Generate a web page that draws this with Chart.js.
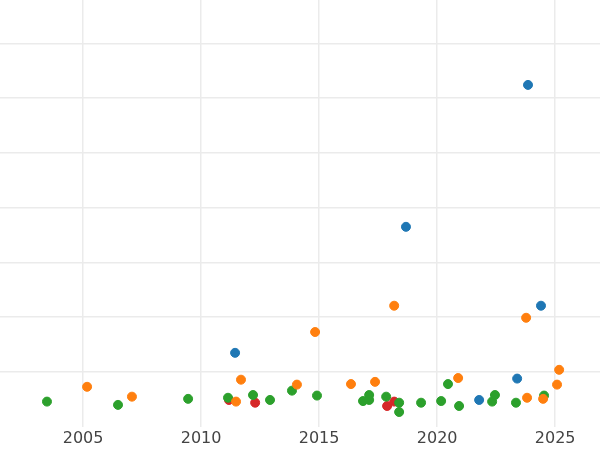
<!DOCTYPE html>
<html>
<head>
<meta charset="utf-8">
<script src="https://cdn.jsdelivr.net/npm/chart.js@4"></script>
<style>
    body { margin: 0; background: #fff; }
    #wrap { width: 600px; height: 450px; }
</style>
</head>
<body>
<div id="wrap"><canvas id="chart"></canvas></div>
<script>
// values: year and value per point
const blueX = [2023.85, 2018.68, 2024.40, 2011.44, 2023.39, 2021.78];
const blueY = [6.24, 3.65, 2.21, 1.35, 0.88, 0.49];
const orangeX = [2005.17, 2007.07, 2011.69, 2011.48, 2014.06, 2014.83, 2016.35, 2017.37, 2018.18, 2020.89, 2023.77, 2023.81, 2024.49, 2025.08, 2025.17];
const orangeY = [0.73, 0.55, 0.86, 0.46, 0.77, 1.73, 0.78, 0.82, 2.21, 0.89, 1.99, 0.53, 0.51, 0.77, 1.04];
const greenX = [2003.47, 2006.48, 2009.45, 2011.14, 2012.20, 2012.92, 2013.85, 2014.91, 2016.86, 2017.12, 2017.12, 2017.84, 2018.39, 2018.39, 2019.32, 2020.17, 2020.46, 2020.93, 2022.33, 2022.45, 2023.34, 2024.53];
const greenY = [0.46, 0.40, 0.51, 0.53, 0.58, 0.49, 0.66, 0.57, 0.47, 0.58, 0.49, 0.55, 0.44, 0.27, 0.44, 0.47, 0.78, 0.38, 0.46, 0.58, 0.44, 0.57];
const redX = [2011.18, 2012.29, 2017.88, 2018.18];
const redY = [0.49, 0.44, 0.38, 0.46];
const xTicks = [2005, 2010, 2015, 2020, 2025];
const yTicks = [1, 2, 3, 4, 5, 6, 7];

function toPoints(xs, ys) {
    return xs.map((x, i) => ({ x: x, y: ys[i] }));
}

function makeSet(xs, ys, color) {
    return {
        data: toPoints(xs, ys),
        backgroundColor: color,
        borderColor: color,
        pointRadius: 4.5,
        pointHoverRadius: 4.5
    };
}

new Chart(document.getElementById("chart").getContext("2d"), {
    type: "scatter",
    data: {
        datasets: [
            makeSet(blueX, blueY, "#1f77b4"),
            makeSet(orangeX, orangeY, "#ff7f0e"),
            makeSet(greenX, greenY, "#2ca02c"),
            makeSet(redX, redY, "#d62728")
        ]
    },
    options: {
        responsive: true,
        maintainAspectRatio: false,
        animation: false,
        layout: { padding: 0, autoPadding: false },
        plugins: { legend: { display: false }, tooltip: { enabled: false } },
        scales: {
            x: {
                type: "linear",
                min: 2001.48,
                max: 2026.9,
                afterBuildTicks: axis => { axis.ticks = xTicks.map(v => ({ value: v })); },
                ticks: {
                    callback: v => String(v),
                    color: "#444",
                    font: { family: "DejaVu Sans", size: 16 },
                    padding: 2
                },
                grid: { color: "#ebebeb", lineWidth: 1.5, drawTicks: false },
                border: { display: false }
            },
            y: {
                min: 0,
                max: 7.79,
                afterBuildTicks: axis => { axis.ticks = yTicks.map(v => ({ value: v })); },
                ticks: { display: false },
                grid: { color: "#ebebeb", lineWidth: 1.5, drawTicks: false },
                border: { display: false }
            }
        }
    }
});
</script>
</body>
</html>
